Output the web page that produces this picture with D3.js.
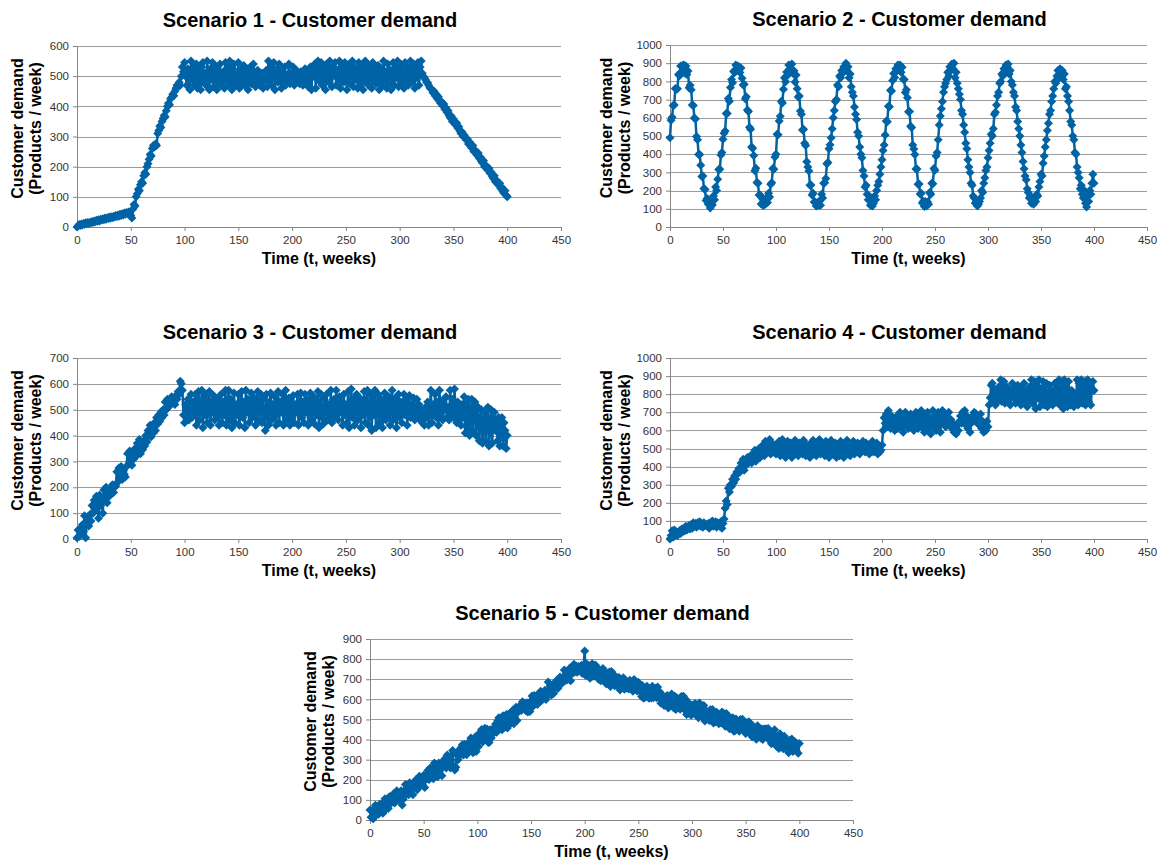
<!DOCTYPE html>
<html>
<head>
<meta charset="utf-8">
<title>Customer demand - 5 scenarios</title>
<script src="https://cdn.jsdelivr.net/npm/d3@7"></script>
<style>
    body { margin: 0; background: #ffffff; }
    text { font-family: Arial, "Liberation Sans", sans-serif; }
    .title { font-size: 20px; font-weight: bold; fill: #000; }
    .axisTitle { font-size: 16px; font-weight: bold; fill: #000; }
    .tick text { font-size: 11.5px; fill: #333; }
    .axis path, .axis line { stroke: #868686; }
    .grid { stroke: #9c9c9c; stroke-width: 1; }
</style>
</head>
<body>
<script>
// titles and tick labels
var titles = [
    "Scenario 1 - Customer demand",
    "Scenario 2 - Customer demand",
    "Scenario 3 - Customer demand",
    "Scenario 4 - Customer demand",
    "Scenario 5 - Customer demand"
];
var xTicks = [0, 50, 100, 150, 200, 250, 300, 350, 400, 450];
var yMaxes = [600, 1000, 700, 1000, 900];
var xTitle = "Time (t, weeks)";
var yTitle = ["Customer demand", "(Products / week)"];

// weekly demand, week 0 .. 400
var scenario1 = [
    0,3,8,5,10,7,12,9,14,11,
    15,12,16,14,18,15,20,17,22,19,
    24,20,26,23,27,24,30,26,31,28,
    33,29,34,31,36,33,38,35,40,36,
    42,38,44,40,46,42,48,44,50,45,
    38,30,60,75,70,100,110,125,120,140,
    150,145,170,180,175,200,210,225,240,235,
    260,270,265,275,270,310,320,335,330,350,
    360,370,365,385,400,410,405,425,430,440,
    435,450,460,470,465,480,470,500,530,515,
    545,500,470,525,510,455,550,490,530,470,
    505,540,460,520,495,455,530,545,480,510,
    470,550,500,455,525,490,545,465,535,500,
    455,520,480,540,470,500,515,460,545,490,
    530,470,550,495,455,525,540,470,505,485,
    545,460,520,500,480,535,470,510,525,455,
    500,530,475,515,540,490,465,505,520,480,
    470,495,510,460,485,500,520,465,550,490,
    530,470,510,545,455,500,525,480,540,495,
    460,515,485,530,470,505,490,540,475,510,
    495,530,470,500,520,485,505,475,515,490,
    470,500,525,480,510,465,495,530,455,520,
    500,540,460,530,550,485,510,545,470,525,
    500,455,540,515,480,550,495,465,530,505,
    545,470,520,490,550,460,510,535,480,545,
    500,455,525,540,475,510,550,465,530,490,
    520,460,545,500,475,535,455,515,550,485,
    540,470,510,530,460,545,495,520,475,505,
    535,455,500,525,470,550,490,515,460,540,
    480,520,455,505,545,470,530,495,550,465,
    510,540,475,520,460,545,490,530,470,515,
    550,480,505,540,460,525,495,545,470,530,
    550,510,500,495,488,480,478,470,462,458,
    455,445,450,435,440,425,432,418,410,415,
    402,408,390,395,380,385,370,362,368,350,
    358,345,338,345,328,332,318,310,315,300,
    305,295,288,292,275,282,268,262,270,250,
    255,245,238,245,228,232,218,212,220,200,
    205,195,188,195,178,182,168,162,170,150,
    155,145,138,145,128,132,118,112,120,105,
    100
];

var scenario2 = [
    490,587,603,668,671,761,757,760,838,831,
    884,852,888,890,845,884,838,857,765,779,
    754,670,668,599,593,497,480,398,398,339,
    278,280,211,206,146,157,127,143,105,128,
    121,170,150,220,200,263,316,317,395,410,
    482,515,527,623,623,706,691,767,810,793,
    856,849,890,858,885,880,849,873,817,780,
    784,704,715,643,634,548,537,440,433,393,
    309,323,245,241,176,176,127,157,118,135,
    125,161,135,185,165,235,243,321,317,385,
    400,510,507,583,608,691,681,757,820,798,
    851,834,890,868,865,895,844,858,797,835,
    759,714,720,638,619,533,537,460,448,358,
    329,308,230,231,176,186,137,137,115,135,
    118,141,120,180,160,240,243,266,347,355,
    430,452,490,540,600,640,690,700,780,770,
    830,820,860,845,880,870,900,860,880,820,
    840,770,740,720,660,620,590,520,500,440,
    400,380,310,280,220,230,180,150,170,120,
    140,115,130,170,150,200,230,250,290,330,
    370,420,450,505,582,578,663,661,751,747,
    805,843,821,869,857,890,875,890,850,878,
    812,810,739,754,710,633,634,553,547,450,
    428,398,319,318,235,236,181,186,132,142,
    113,140,115,138,125,190,180,240,238,321,
    312,390,410,480,560,610,650,690,740,770,
    790,810,850,830,880,860,895,870,900,820,
    850,790,760,730,700,640,620,560,520,460,
    430,370,330,300,240,230,170,160,130,140,
    115,125,140,160,200,190,240,270,310,330,
    380,420,460,510,500,540,620,630,670,720,
    740,790,800,840,830,870,855,890,880,895,
    840,860,800,780,740,720,660,640,580,540,
    500,450,410,360,320,280,260,210,190,160,
    170,130,150,125,160,140,180,170,220,250,
    290,280,350,390,440,480,530,570,620,640,
    690,720,760,800,790,830,860,820,870,830,
    860,810,840,760,770,720,690,640,580,560,
    500,480,410,400,330,300,270,210,230,180,
    160,200,130,110,170,140,200,180,240,290,
    240
];

var scenario3 = [
    5,35,10,40,20,55,30,90,5,60,
    85,50,95,70,130,100,150,110,165,120,
    80,170,130,160,100,190,150,200,140,185,
    165,190,175,210,180,200,205,260,220,275,
    240,280,230,265,250,240,280,330,290,340,
    300,285,330,310,350,320,370,340,385,330,
    360,345,380,360,400,375,420,400,440,395,
    420,410,450,420,470,445,480,455,490,470,
    500,480,530,500,540,510,530,520,550,530,
    540,520,555,540,570,560,610,600,575,480,
    450,520,480,540,460,510,560,470,530,490,
    560,440,520,570,460,500,575,430,540,480,
    560,450,510,570,440,530,490,555,460,520,
    470,540,440,500,560,450,530,480,575,440,
    520,575,460,540,430,500,565,450,520,480,
    560,440,510,570,470,530,430,575,490,540,
    450,520,565,470,500,545,440,530,570,460,
    510,560,450,540,480,420,560,500,440,530,
    565,460,520,480,550,440,510,570,450,530,
    490,560,440,520,575,460,500,545,440,530,
    470,555,450,520,490,560,440,510,565,470,
    530,450,560,490,540,440,520,565,460,500,
    550,445,530,480,570,430,515,560,470,445,
    540,490,560,460,520,480,575,450,510,540,
    470,575,500,460,550,490,530,440,560,480,
    520,450,570,430,510,580,470,540,440,520,
    560,460,500,545,430,530,480,570,450,520,
    575,440,510,560,420,540,480,575,430,520,
    560,450,500,540,430,515,565,460,530,480,
    550,440,520,575,460,510,545,430,500,560,
    470,530,450,520,560,480,540,440,510,555,
    470,520,490,545,460,500,540,480,520,460,
    500,450,480,440,510,470,530,440,500,575,
    450,520,490,560,470,530,440,575,480,520,
    460,540,500,550,470,510,460,575,490,540,
    470,580,500,450,530,460,510,440,520,470,
    550,410,520,430,540,400,480,540,420,500,
    530,400,470,510,380,460,500,370,450,490,
    380,470,510,360,440,500,370,460,490,420,
    450,380,470,360,440,470,360,450,420,350,
    400
];

var scenario4 = [
    0,20,45,10,50,25,40,20,35,45,
    30,55,40,60,45,70,50,65,75,55,
    80,60,90,70,85,65,90,75,95,70,
    85,65,90,75,80,70,85,60,90,75,
    100,70,85,95,65,90,80,70,95,60,
    85,110,170,210,190,280,260,300,290,330,
    310,350,330,370,360,390,370,420,400,440,
    380,430,410,450,420,440,460,420,470,440,
    490,430,480,460,500,450,510,470,520,460,
    540,490,520,480,550,470,530,500,480,520,
    470,510,490,540,460,500,550,470,520,450,
    510,540,470,500,530,450,520,490,545,470,
    500,460,530,480,510,470,545,490,460,520,
    480,500,450,530,490,545,470,510,460,530,
    500,550,470,520,480,510,460,540,490,520,
    450,500,545,470,510,480,530,450,500,520,
    460,540,490,510,450,530,480,545,470,500,
    460,520,490,540,470,510,480,530,500,470,
    520,490,540,500,480,530,495,510,470,520,
    500,540,480,515,490,530,470,505,480,490,
    520,600,670,640,690,620,710,650,610,680,
    630,660,600,640,680,610,650,700,620,670,
    590,650,700,630,680,610,660,690,620,650,
    600,670,700,640,610,680,650,710,620,660,
    590,690,640,700,610,670,580,650,710,620,
    680,600,660,700,630,590,670,710,640,690,
    620,680,650,700,630,660,610,640,590,620,
    580,630,600,650,680,640,700,660,710,630,
    680,610,660,590,640,680,650,700,660,690,
    640,670,630,690,610,650,590,630,600,650,
    620,740,780,850,860,760,820,740,800,760,
    840,780,880,760,820,870,750,800,840,770,
    820,740,800,860,780,830,750,810,850,770,
    800,740,830,780,860,760,810,730,790,840,
    770,880,750,820,870,720,850,780,880,730,
    830,760,870,740,810,860,730,790,850,760,
    820,740,800,860,770,830,750,880,740,810,
    870,720,880,760,840,730,870,780,740,820,
    760,730,800,750,880,740,860,770,880,750,
    810,870,740,830,880,760,850,740,830,870,
    820
];

var scenario5 = [
    50,14,47,6,40,73,27,56,29,78,
    42,80,34,78,106,55,83,57,116,79,
    118,92,130,84,123,146,105,124,97,146,
    75,103,147,176,129,168,126,185,154,177,
    126,185,163,202,151,189,218,172,205,174,
    223,161,225,204,247,201,259,223,257,205,
    284,228,266,215,284,247,276,220,293,277,
    306,259,323,272,300,259,322,346,265,248,
    262,326,299,348,322,360,374,323,376,335,
    324,382,341,380,408,357,335,389,413,341,
    405,364,432,406,450,388,437,456,404,453,
    387,385,449,408,451,430,448,477,436,494,
    508,452,495,449,518,461,505,524,457,526,
    475,533,487,546,479,523,561,495,554,542,
    571,545,588,562,581,544,583,537,575,539,
    593,616,565,619,592,616,574,628,602,640,
    594,633,616,645,599,637,686,625,668,622,
    661,629,683,662,695,654,687,711,675,703,
    707,746,694,728,697,730,754,693,751,730,
    774,737,766,735,763,757,740,769,728,766,
    840,718,776,734,767,705,759,777,715,743,
    771,714,757,700,743,692,730,753,696,729,
    677,730,698,736,664,738,686,724,667,700,
    708,666,709,647,695,669,707,650,683,656,
    684,652,695,653,671,640,698,651,679,642,
    685,643,666,614,667,606,649,612,665,623,
    606,654,607,665,608,637,655,608,661,609,
    637,580,623,591,569,613,576,619,557,590,
    578,626,584,557,615,549,607,560,598,551,
    614,562,615,548,601,525,588,531,574,522,
    525,573,536,579,522,561,509,582,530,563,
    511,569,492,545,508,537,495,548,511,549,
    482,525,488,536,499,478,521,484,537,485,
    528,466,529,477,505,454,507,460,508,441,
    444,502,455,488,441,500,458,501,449,472,
    430,483,446,489,432,466,414,467,420,453,
    401,469,422,450,408,452,400,453,421,454,
    412,455,398,436,379,438,406,449,382,365,
    418,356,429,372,415,354,417,360,398,371,
    334,397,350,403,341,365,388,346,379,332,
    380
];

var allSeries = [scenario1, scenario2, scenario3, scenario4, scenario5];

// plot area of each panel on the page (left, top, width, height)
var panelBoxes = [
    { left: 77,  top: 46,  width: 484, height: 181 },
    { left: 670, top: 45,  width: 477, height: 182 },
    { left: 77,  top: 358, width: 484, height: 181 },
    { left: 670, top: 358, width: 477, height: 181 },
    { left: 370, top: 639, width: 483, height: 181 }
];

var blue = "#0063a6";

window.onload = function(){
    var svg = d3.select("body")
        .append("svg")
        .attr("width", 1158)
        .attr("height", 863);

    panelBoxes.forEach(function(box, p){
        var data = allSeries[p];
        var yMax = yMaxes[p];

        var x = d3.scaleLinear()
            .domain([0, 450])
            .range([0, box.width]);

        var y = d3.scaleLinear()
            .domain([0, yMax])
            .range([box.height, 0]);

        var yTicks = d3.range(0, yMax + 1, 100);

        var g = svg.append("g")
            .attr("transform", "translate(" + box.left + "," + box.top + ")");

        //horizontal gridlines
        g.selectAll(".grid")
            .data(yTicks.slice(1))
            .enter()
            .append("line")
            .attr("class", "grid")
            .attr("x1", 0)
            .attr("x2", box.width)
            .attr("y1", function(d){ return Math.round(y(d)) + 0.5; })
            .attr("y2", function(d){ return Math.round(y(d)) + 0.5; });

        //axes (plain numbers, no thousands comma)
        g.append("g")
            .attr("class", "axis")
            .call(d3.axisLeft(y).tickValues(yTicks).tickFormat(d3.format("d"))
                .tickSize(4).tickSizeOuter(0).tickPadding(4));

        g.append("g")
            .attr("class", "axis")
            .attr("transform", "translate(0," + box.height + ")")
            .call(d3.axisBottom(x).tickValues(xTicks).tickFormat(d3.format("d"))
                .tickSize(4).tickSizeOuter(0).tickPadding(5));

        //series line
        var line = d3.line()
            .x(function(d, i){ return x(i); })
            .y(function(d){ return y(d); });

        g.append("path")
            .datum(data)
            .attr("d", line)
            .style("fill", "none")
            .style("stroke", blue)
            .style("stroke-width", 2.5)
            .style("stroke-linejoin", "round");

        //diamond markers
        var r = 4.5;
        g.selectAll(".marker")
            .data(data)
            .enter()
            .append("path")
            .attr("class", "marker")
            .attr("d", "M0," + (-r) + "L" + r + ",0L0," + r + "L" + (-r) + ",0Z")
            .attr("transform", function(d, i){
                return "translate(" + x(i) + "," + y(d) + ")";
            })
            .style("fill", blue);

        //chart title
        g.append("text")
            .attr("class", "title")
            .attr("text-anchor", "middle")
            .attr("x", box.width / 2 - 9)
            .attr("y", -19)
            .text(titles[p]);

        //x axis title
        g.append("text")
            .attr("class", "axisTitle")
            .attr("text-anchor", "middle")
            .attr("x", box.width / 2)
            .attr("y", box.height + 37)
            .text(xTitle);

        //y axis title, two lines
        var yOff = yMax >= 1000 ? 58 : 54;
        g.selectAll(".yTitle")
            .data(yTitle)
            .enter()
            .append("text")
            .attr("class", "axisTitle")
            .attr("text-anchor", "middle")
            .attr("transform", function(d, i){
                return "translate(" + (-yOff + i * 18) + "," + (box.height / 2 - 8) + ") rotate(-90)";
            })
            .text(function(d){ return d; });
    });
};
</script>
</body>
</html>
